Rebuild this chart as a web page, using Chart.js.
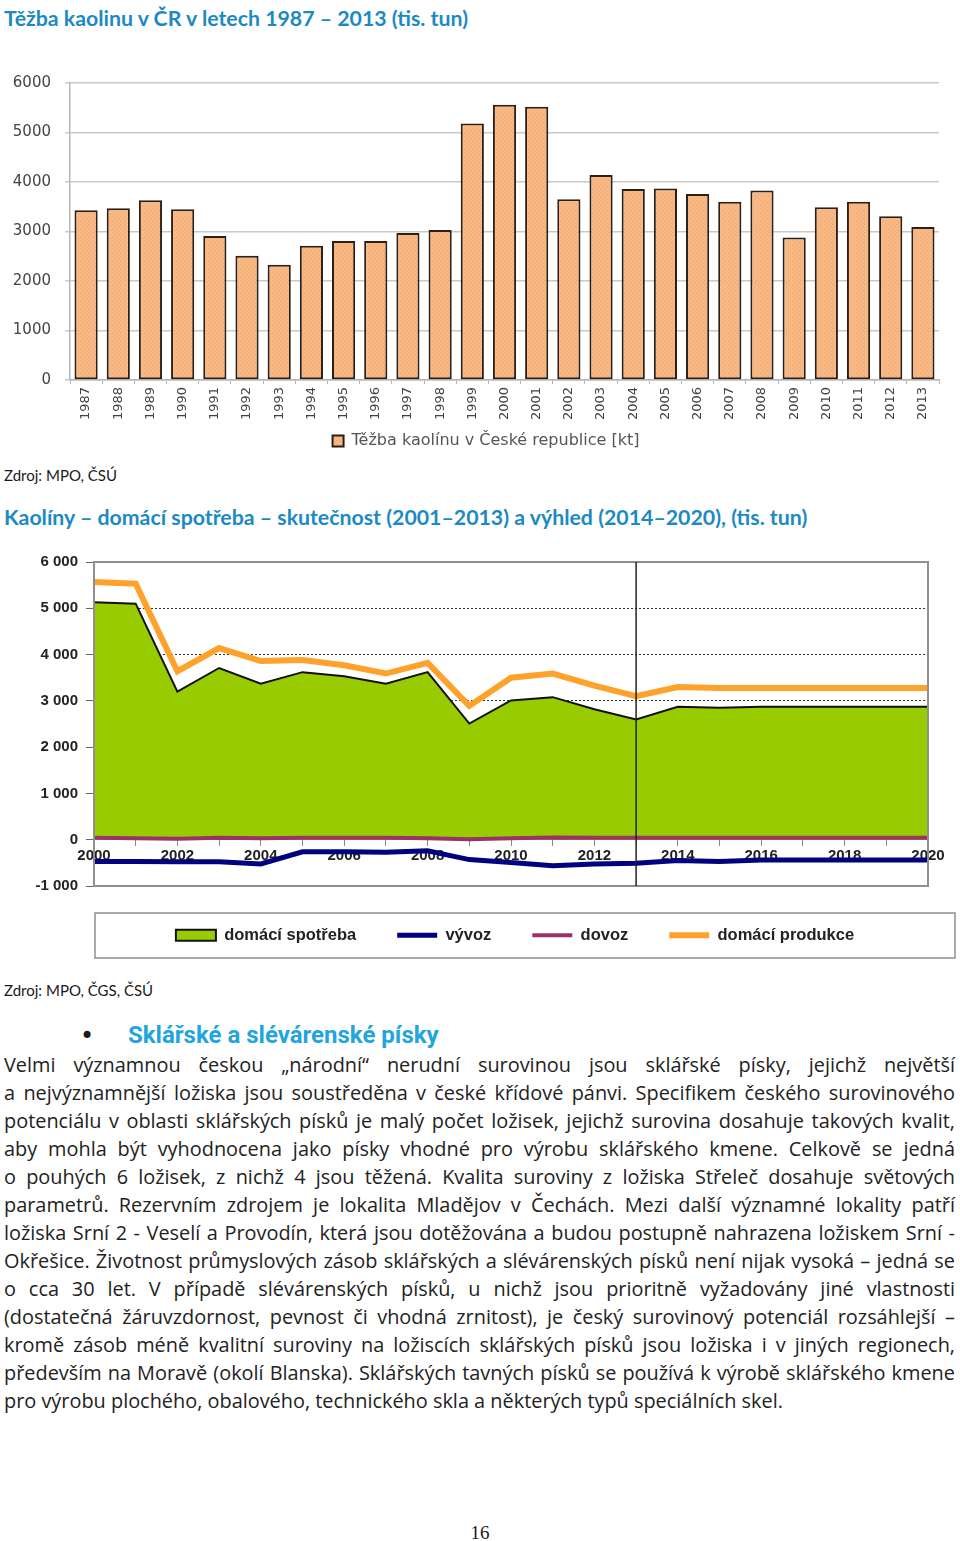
<!DOCTYPE html>
<html lang="cs">
<head>
<meta charset="utf-8">
<title>Těžba kaolinu v ČR</title>
<script src="https://cdn.jsdelivr.net/npm/chart.js@4.4.1/dist/chart.umd.min.js"></script>
<style>
  html, body { margin: 0; padding: 0; background: #fff; }
  body { width: 960px; height: 1541px; position: relative; overflow: hidden; font-family: "Open Sans", Lato, sans-serif; color: #1a1a1a; }
  .abs { position: absolute; white-space: nowrap; }
  .title { left: 4px; font-family: Lato, sans-serif; font-weight: bold; font-size: 21.3px; line-height: 26px; color: #1b8ac4; }
  .src { left: 4px; font-family: Lato, sans-serif; font-size: 15px; line-height: 20px; }
  canvas { position: absolute; left: 0; }
  #c1 { top: 60px; }
  #c2 { top: 545px; }
  .bullet { left: 80px; top: 1020px; font-size: 24px; line-height: 32px; font-family: "DejaVu Sans", sans-serif; }
  .head { left: 128px; top: 1019px; font-family: "Liberation Sans Narrow", "Roboto", sans-serif; font-weight: bold; font-size: 24px; line-height: 32px; color: #22a5de; }
  .para { position: absolute; left: 4px; top: 1051px; width: 951px; font-size: 19.9px; line-height: 28px; color: #222; }
  .para div { text-align: justify; text-align-last: justify; }
  .para div.last { text-align-last: left; }
  .page { left: 0; width: 960px; text-align: center; top: 1521px; font-family: "Liberation Serif", serif; font-size: 19px; line-height: 24px; }
</style>
</head>
<body>

<div class="abs title" style="top:5px">Těžba kaolinu v ČR v letech 1987 – 2013 (tis. tun)</div>
<canvas id="c1" width="972" height="400"></canvas>
<div class="abs src" style="top:465px">Zdroj: MPO, ČSÚ</div>

<div class="abs title" style="top:504px">Kaolíny – domácí spotřeba – skutečnost (2001–2013) a výhled (2014–2020), (tis. tun)</div>
<canvas id="c2" width="1030" height="420"></canvas>
<div class="abs src" style="top:980px">Zdroj: MPO, ČGS, ČSÚ</div>

<div class="abs bullet">•</div>
<div class="abs head">Sklářské a slévárenské písky</div>
<div class="para">
  <div>Velmi významnou českou „národní“ nerudní surovinou jsou sklářské písky, jejichž největší</div>
  <div>a nejvýznamnější ložiska jsou soustředěna v české křídové pánvi. Specifikem českého surovinového</div>
  <div>potenciálu v oblasti sklářských písků je malý počet ložisek, jejichž surovina dosahuje takových kvalit,</div>
  <div>aby mohla být vyhodnocena jako písky vhodné pro výrobu sklářského kmene. Celkově se jedná</div>
  <div>o pouhých 6 ložisek, z nichž 4 jsou těžená. Kvalita suroviny z ložiska Střeleč dosahuje světových</div>
  <div>parametrů. Rezervním zdrojem je lokalita Mladějov v Čechách. Mezi další významné lokality patří</div>
  <div>ložiska Srní 2 - Veselí a Provodín, která jsou dotěžována a budou postupně nahrazena ložiskem Srní -</div>
  <div>Okřešice. Životnost průmyslových zásob sklářských a slévárenských písků není nijak vysoká – jedná se</div>
  <div>o cca 30 let. V případě slévárenských písků, u nichž jsou prioritně vyžadovány jiné vlastnosti</div>
  <div>(dostatečná žáruvzdornost, pevnost či vhodná zrnitost), je český surovinový potenciál rozsáhlejší –</div>
  <div>kromě zásob méně kvalitní suroviny na ložiscích sklářských písků jsou ložiska i v jiných regionech,</div>
  <div>především na Moravě (okolí Blanska). Sklářských tavných písků se používá k výrobě sklářského kmene</div>
  <div class="last">pro výrobu plochého, obalového, technického skla a některých typů speciálních skel.</div>
</div>
<div class="abs page">16</div>

<script>
// graf 1 - těžba kaolínu 1987-2013 (kt)
const roky = ['1987', '1988', '1989', '1990', '1991', '1992', '1993', '1994', '1995', '1996', '1997', '1998', '1999',
  '2000', '2001', '2002', '2003', '2004', '2005', '2006', '2007', '2008', '2009', '2010', '2011', '2012', '2013'];
const tezba = [3430, 3470, 3630, 3450, 2910, 2510, 2330, 2710, 2810, 2810, 2970, 3030, 5180,
  5560, 5520, 3650, 4140, 3860, 3870, 3760, 3600, 3830, 2880, 3490, 3600, 3310, 3090];
const osa1 = [0, 1000, 2000, 3000, 4000, 5000, 6000];

// graf 2 - kaolíny, skutečnost a výhled (tis. t)
const roky2 = ['2000', '2001', '2002', '2003', '2004', '2005', '2006', '2007', '2008', '2009', '2010',
  '2011', '2012', '2013', '2014', '2015', '2016', '2017', '2018', '2019', '2020'];
const spotreba = [5130, 5100, 3200, 3710, 3370, 3620, 3530, 3370, 3620, 2510, 3010,
  3080, 2820, 2600, 2870, 2850, 2870, 2870, 2870, 2870, 2870];
const vyvoz = [-470, -470, -475, -475, -525, -260, -260, -270, -240, -430, -490,
  -560, -525, -510, -450, -470, -440, -440, -440, -440, -440];
const dovoz = [40, 30, 20, 40, 30, 40, 40, 40, 30, 10, 30,
  50, 40, 40, 40, 40, 40, 40, 40, 40, 40];
const produkce = [5570, 5530, 3640, 4140, 3860, 3880, 3770, 3590, 3820, 2890, 3500,
  3590, 3330, 3100, 3300, 3280, 3280, 3280, 3280, 3280, 3280];
const osa2 = [-1000, 0, 1000, 2000, 3000, 4000, 5000, 6000];
const skutecnostDo = '2013';

Chart.defaults.animation = false;
Chart.defaults.plugins.tooltip.enabled = false;

function teckovanyVzor(ctx) {
  const p = document.createElement('canvas');
  p.width = 4; p.height = 4;
  const g = p.getContext('2d');
  g.fillStyle = '#f9b985';
  g.fillRect(0, 0, 4, 4);
  g.fillStyle = '#eba06a';
  g.fillRect(0, 0, 1, 1);
  g.fillRect(2, 2, 1, 1);
  return ctx.createPattern(p, 'repeat');
}

// prázdná osa vpravo - jen kvůli vycentrování legendy
function prazdnaOsa(w) {
  return {
    axis: 'y', position: 'right',
    afterFit: s => { s.width = w; },
    grid: { display: false }, border: { display: false }, ticks: { display: false }
  };
}

const ctx1 = document.getElementById('c1').getContext('2d');
new Chart(ctx1, {
  type: 'bar',
  data: {
    labels: roky,
    datasets: [{
      label: 'Těžba kaolínu v České republice [kt]',
      data: tezba,
      backgroundColor: teckovanyVzor(ctx1),
      borderColor: '#2e1f16',
      borderWidth: 2,
      borderSkipped: false,
      barPercentage: 0.72,
      categoryPercentage: 1
    }]
  },
  options: {
    responsive: false,
    devicePixelRatio: 1,
    layout: { padding: { top: 19, left: 0, right: 0, bottom: 1 } },
    plugins: {
      legend: {
        position: 'bottom',
        labels: { boxWidth: 11, boxHeight: 11, padding: 10, color: '#555',
          font: { family: 'DejaVu Sans', size: 16 } }
      }
    },
    scales: {
      x: {
        afterFit: s => { s.height = 43; },
        grid: { drawOnChartArea: false, tickLength: 4, color: '#b5b5b5' },
        border: { color: '#b5b5b5', width: 1.5 },
        ticks: { minRotation: 90, maxRotation: 90, autoSkip: false, padding: 3, color: '#444',
          font: { family: 'DejaVu Sans', size: 13 } }
      },
      y: {
        min: osa1[0], max: osa1[osa1.length - 1],
        afterFit: s => { s.width = 70; },
        afterBuildTicks: s => { s.ticks = osa1.map(v => ({ value: v })); },
        grid: { color: '#c9c9c9', lineWidth: 1.5, tickLength: 5 },
        border: { color: '#b5b5b5', width: 1.5 },
        ticks: { padding: 14, color: '#444', font: { family: 'DejaVu Sans', size: 15 },
          callback: v => String(v) }
      },
      y2: prazdnaOsa(33)
    }
  }
});

function tisice(v) {
  return String(v).replace(/\B(?=(\d{3})+(?!\d))/g, ' ');
}

// rámeček grafu, dělicí čára skutečnost/výhled, rámeček legendy
const ramecek = {
  id: 'ramecek',
  afterDraw(chart) {
    const { ctx, chartArea: a, scales: { x } } = chart;
    ctx.save();
    ctx.strokeStyle = '#8f8f8f';
    ctx.lineWidth = 2;
    ctx.strokeRect(a.left, a.top, a.right - a.left, a.bottom - a.top);
    const xd = x.getPixelForValue(roky2.indexOf(skutecnostDo));
    ctx.strokeStyle = '#222';
    ctx.lineWidth = 1.5;
    ctx.beginPath();
    ctx.moveTo(xd, a.top);
    ctx.lineTo(xd, a.bottom);
    ctx.stroke();
    const l = chart.legend;
    ctx.strokeStyle = '#8f8f8f';
    ctx.lineWidth = 1.5;
    ctx.strokeRect(a.left + 1, l.top + 27, a.right + 27 - a.left - 1, 45);
    ctx.restore();
  }
};

new Chart(document.getElementById('c2'), {
  type: 'line',
  data: {
    labels: roky2,
    datasets: [
      { label: 'domácí spotřeba', data: spotreba, fill: 'origin', order: 4,
        backgroundColor: '#99cc00', borderColor: '#111', borderWidth: 2, pointStyle: 'rect' },
      { label: 'vývoz', data: vyvoz, order: 3, borderColor: '#000080', backgroundColor: '#000080',
        borderWidth: 5, pointStyle: 'line' },
      { label: 'dovoz', data: dovoz, order: 2, borderColor: '#993366', backgroundColor: '#993366',
        borderWidth: 4, pointStyle: 'line' },
      { label: 'domácí produkce', data: produkce, order: 1, borderColor: '#ffa22b', backgroundColor: '#ffa22b',
        borderWidth: 6, pointStyle: 'line' }
    ]
  },
  options: {
    responsive: false,
    devicePixelRatio: 1,
    elements: { point: { radius: 0 }, line: { tension: 0 } },
    layout: { padding: { top: 16, left: 0, right: 0, bottom: 11.5 } },
    plugins: {
      legend: {
        position: 'bottom',
        reverse: true,
        labels: { usePointStyle: true, pointStyleWidth: 40, boxWidth: 40, boxHeight: 11, padding: 41,
          color: '#222', font: { family: 'Liberation Sans', size: 16.5, weight: 'bold' } }
      }
    },
    scales: {
      x: {
        position: { y: 0 },
        grid: { drawOnChartArea: false, tickLength: 6, color: '#888' },
        border: { color: '#888' },
        ticks: { autoSkip: false, maxRotation: 0, padding: 1, color: '#222',
          font: { family: 'Liberation Sans', size: 15, weight: 'bold' },
          callback: (v, i) => (i % 2 === 0 ? roky2[i] : '') }
      },
      y: {
        min: osa2[0], max: osa2[osa2.length - 1],
        afterFit: s => { s.width = 94; },
        afterBuildTicks: s => { s.ticks = osa2.map(v => ({ value: v })); },
        grid: {
          color: c => (c.tick && (c.tick.value === osa2[0] || c.tick.value === osa2[osa2.length - 1]) ? 'rgba(0,0,0,0)' : '#333'),
          tickColor: '#666', tickLength: 8
        },
        border: { color: '#777', width: 2, dash: [2, 2] },
        ticks: { padding: 8, color: '#222', font: { family: 'Liberation Sans', size: 15, weight: 'bold' },
          callback: v => tisice(v) }
      },
      y2: prazdnaOsa(102)
    }
  },
  plugins: [ramecek]
});
</script>
</body>
</html>
